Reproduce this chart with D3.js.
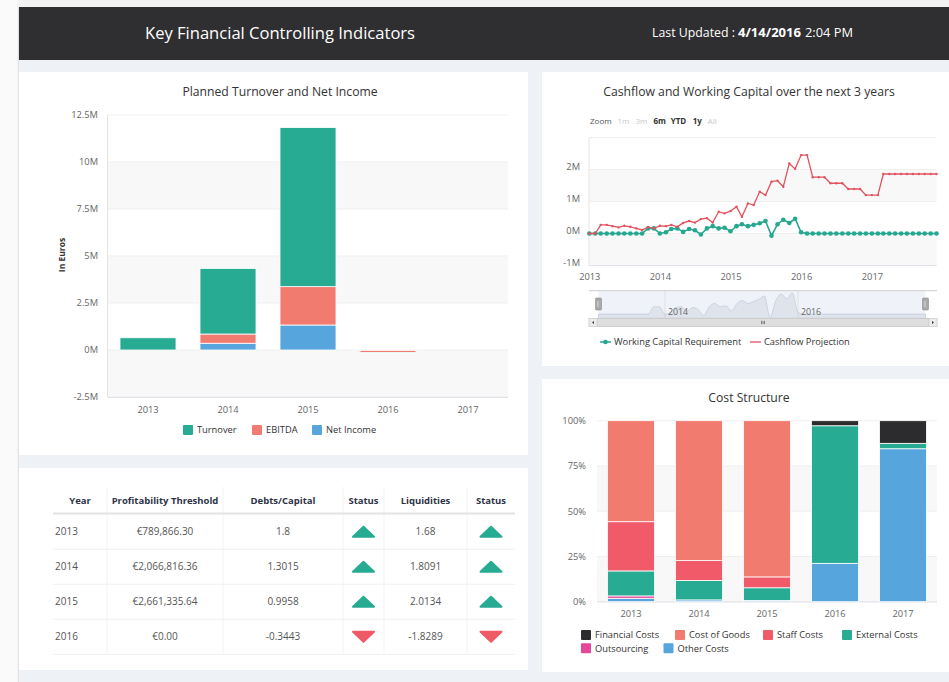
<!DOCTYPE html>
<html>
<head>
<meta charset="utf-8">
<script src="https://cdn.jsdelivr.net/npm/d3@7"></script>
<style>
  html, body { margin: 0; padding: 0; background: #f5f5f5; }
  svg { display: block; font-family: "Open Sans", sans-serif; }
</style>
</head>
<body>
<svg id="dash" width="949" height="682"></svg>
<script>
/* Key Financial Controlling Indicators - four panel dashboard.
   Bars: planned turnover (stacked), line: cashflow vs working capital,
   table: ratios, bars: cost structure (percent stacked). */

// ---- data ----
const YEARS      = ["2013", "2014", "2015", "2016", "2017"];
const TURNOVER   = [650000, 3490000, 8460000, -20000, 0];
const EBITDA     = [0, 490000, 2040000, -120000, 0];
const NET_INCOME = [0, 360000, 1330000, -20000, 0];
const TURN_TICKS = [-2.5e6, 0, 2.5e6, 5e6, 7.5e6, 10e6, 12.5e6];

// monthly, Jan 2013 .. Dec 2017, in millions of euros
const CF_START = new Date(2013, 0, 1);
const WCR = [0, 0, 0, 0, 0, 0, 0, 0, 0, 0, 0.16, 0.16,
             0, 0.04, 0.14, 0.16, 0.05, 0.14, 0.10, -0.03, 0.16, 0.23, 0.16, 0.18,
             0.07, 0.23, 0.29, 0.23, 0.27, 0.32, 0.39, -0.07, 0.29, 0.43, 0.33, 0.46,
             0.04, 0, 0, 0, 0, 0, 0, 0, 0, 0, 0, 0,
             0, 0, 0, 0, 0, 0, 0, 0, 0, 0, 0, 0];
const CASHFLOW = [0, 0, 0.27, 0.27, 0.23, 0.19, 0.24, 0.21, 0.16, 0.11, 0.20, 0.16,
                  0.24, 0.23, 0.27, 0.21, 0.33, 0.39, 0.34, 0.45, 0.48, 0.34, 0.68, 0.63,
                  0.70, 0.84, 0.52, 0.94, 0.89, 1.31, 1.20, 1.62, 1.65, 1.46, 2.19, 2.02,
                  2.45, 2.45, 1.76, 1.76, 1.76, 1.57, 1.57, 1.57, 1.39, 1.39, 1.39, 1.20,
                  1.20, 1.20, 1.86, 1.86, 1.86, 1.86, 1.86, 1.86, 1.86, 1.86, 1.86, 1.86];
const CF_TICKS = [-1, 0, 1, 2, 3];
const CF_ZOOM  = ["1m", "3m", "6m", "YTD", "1y", "All"];
const CF_ZOOM_ON = ["6m", "YTD", "1y"];

// table
const T_YEARS     = ["2013", "2014", "2015", "2016"];
const T_THRESHOLD = [789866.30, 2066816.36, 2661335.64, 0];
const T_DEBTS     = ["1.8", "1.3015", "0.9958", "-0.3443"];
const T_LIQ       = ["1.68", "1.8091", "2.0134", "-1.8289"];
const T_HEAD      = ["Year", "Profitability Threshold", "Debts/Capital", "Status", "Liquidities", "Status"];

// cost structure, percent of total
const COST_FIN   = [0, 0, 0, 2.8, 12.5];
const COST_GOODS = [55.8, 77.3, 86.3, 0, 0];
const COST_STAFF = [27.2, 11.0, 6.0, 0, 0];
const COST_EXT   = [13.8, 10.7, 7.0, 76.0, 3.0];
const COST_OUT   = [1.3, 0, 0, 0, 0];
const COST_OTHER = [1.9, 1.0, 0.7, 21.2, 84.5];
const COST_TICKS = [0, 0.25, 0.5, 0.75, 1];

// ---- styles ----
const COL = {
  teal: "#27ab93", salmon: "#f27b70", blue: "#57a5dd", staff: "#f05a69",
  dark: "#2c2c2e", pink: "#e4479b", green: "#25a88f", red: "#e2535f"
};
const LABEL = "#666", TITLE = "#333", BAND = "#f8f8f8", GRID = "#efefef", AXIS = "#dfe3ea";

const svg = d3.select("#dash");

function axisStyle(sel){
  sel.select(".domain").remove();
  sel.selectAll("text").attr("fill", LABEL).style("font-size", "9.3px")
     .style("font-family", '"Open Sans", sans-serif');
}

function legend(g, items, xs, ys){
  items.forEach((it, i) => {
    g.append("rect").attr("x", xs[i]).attr("y", ys[i] - 5)
        .attr("width", 10).attr("height", 10).attr("rx", 1).attr("fill", it[1]);
    g.append("text").attr("x", xs[i] + 14).attr("y", ys[i]).attr("dy", "0.35em")
        .attr("fill", TITLE).style("font-size", "9.3px").text(it[0]);
  });
}

function title(txt, x, y){
  svg.append("text").attr("x", x).attr("y", y).attr("dy", "0.35em")
      .attr("text-anchor", "middle").attr("fill", TITLE)
      .style("font-size", "12.2px").text(txt);
}

// ---- page frame ----
function drawFrame(){
  svg.append("rect").attr("width", 949).attr("height", 682).attr("fill", "#f3f3f3");
  svg.append("rect").attr("x", 0).attr("width", 17).attr("height", 682).attr("fill", "#fafafa");
  svg.append("rect").attr("x", 18).attr("y", 60).attr("width", 931).attr("height", 622).attr("fill", "#eef2f7");
  svg.append("line").attr("x1", 18.5).attr("x2", 18.5).attr("y1", 7).attr("y2", 682)
      .attr("stroke", "#e2e2e2");
  svg.append("rect").attr("x", 19).attr("y", 7).attr("width", 930).attr("height", 53).attr("fill", "#2f2f31");

  svg.append("text").attr("x", 145).attr("y", 33).attr("dy", "0.35em").attr("fill", "#fff")
      .style("font-size", "17px").attr("textLength", 270).attr("lengthAdjust", "spacingAndGlyphs")
      .text("Key Financial Controlling Indicators");
  const upd = [["Last Updated :", 652, 83, 400], ["4/14/2016", 738, 63, 700], ["2:04 PM", 805, 48, 400]];
  upd.forEach(u => svg.append("text").attr("x", u[1]).attr("y", 33).attr("dy", "0.35em")
      .attr("fill", "#fff").style("font-size", "12.5px").style("font-weight", u[3])
      .attr("textLength", u[2]).attr("lengthAdjust", "spacingAndGlyphs").text(u[0]));

  const panels = [[19, 72, 509, 383], [19, 468, 509, 202], [542, 72, 407, 294], [542, 379, 407, 293]];
  svg.selectAll("rect.panel").data(panels).join("rect").attr("class", "panel")
      .attr("x", d => d[0]).attr("y", d => d[1]).attr("width", d => d[2]).attr("height", d => d[3])
      .attr("fill", "#fff");
}

// ---- planned turnover ----
function drawTurnover(){
  const g = svg.append("g");
  const x = d3.scaleBand().domain(YEARS).range([108, 508]).paddingInner(0.3).paddingOuter(0.15);
  const y = d3.scaleLinear().domain([-2.5e6, 12.5e6]).range([397, 115]);

  const bands = d3.pairs(TURN_TICKS).filter((d, i) => i % 2 === 0);
  g.selectAll("rect.band").data(bands).join("rect")
      .attr("x", 108).attr("width", 400)
      .attr("y", d => y(d[1])).attr("height", d => y(d[0]) - y(d[1])).attr("fill", BAND);
  g.selectAll("line.grid").data(TURN_TICKS).join("line")
      .attr("x1", 108).attr("x2", 508).attr("y1", d => y(d)).attr("y2", d => y(d)).attr("stroke", GRID);
  g.append("line").attr("x1", 107.5).attr("x2", 107.5).attr("y1", 115).attr("y2", 397).attr("stroke", "#e4e4e4");
  g.append("line").attr("x1", 108).attr("x2", 508).attr("y1", 397.5).attr("y2", 397.5).attr("stroke", AXIS);

  g.append("g").attr("transform", "translate(108,0)")
      .call(d3.axisLeft(y).tickValues(TURN_TICKS).tickSize(0).tickPadding(10).tickFormat(d => d / 1e6 + "M"))
      .call(axisStyle);
  g.append("g").attr("transform", "translate(0,397)")
      .call(d3.axisBottom(x).tickSize(0).tickPadding(9)).call(axisStyle);

  g.append("text").attr("transform", "translate(62,255) rotate(-90)").attr("text-anchor", "middle")
      .attr("dy", "0.35em").attr("fill", TITLE).style("font-size", "8.5px").style("font-weight", 700)
      .text("In Euros");

  const rows = YEARS.map((yr, i) => ({year: yr, "Net Income": NET_INCOME[i], EBITDA: EBITDA[i], Turnover: TURNOVER[i]}));
  const keys = ["Net Income", "EBITDA", "Turnover"];
  const color = d3.scaleOrdinal().domain(keys).range([COL.blue, COL.salmon, COL.teal]);
  const stacked = d3.stack().keys(keys).offset(d3.stackOffsetDiverging)(rows);

  g.selectAll("g.series").data(stacked).join("g").attr("fill", d => color(d.key))
    .selectAll("rect").data(d => d.filter(p => p[1] !== p[0])).join("rect")
      .attr("x", d => x(d.data.year)).attr("width", x.bandwidth())
      .attr("y", d => y(Math.max(d[0], d[1])))
      .attr("height", d => Math.abs(y(d[0]) - y(d[1])))
      .attr("stroke", "#fff").attr("stroke-width", 0.8);

  legend(g, [["Turnover", COL.teal], ["EBITDA", COL.salmon], ["Net Income", COL.blue]],
         [183, 252, 312], [430, 430, 430]);
  title("Planned Turnover and Net Income", 280, 92);
}

// ---- cashflow and working capital ----
function drawCashflow(){
  const g = svg.append("g");
  const months = CASHFLOW.map((_, i) => d3.timeMonth.offset(CF_START, i));
  const x = d3.scaleTime().domain(d3.extent(months)).range([589.3, 936.5]);
  const y = d3.scaleLinear().domain([-1, 3]).range([265.5, 137.5]);

  const bands = d3.pairs(CF_TICKS).filter((d, i) => i % 2 === 0);
  g.selectAll("rect.band").data(bands).join("rect")
      .attr("x", 589.3).attr("width", 347.2)
      .attr("y", d => y(d[1])).attr("height", d => y(d[0]) - y(d[1])).attr("fill", BAND);
  g.selectAll("line.grid").data(CF_TICKS).join("line")
      .attr("x1", 589.3).attr("x2", 936.5).attr("y1", d => y(d)).attr("y2", d => y(d)).attr("stroke", GRID);
  g.append("line").attr("x1", 589).attr("x2", 589).attr("y1", 137.5).attr("y2", 265.5).attr("stroke", "#e4e4e4");
  g.append("line").attr("x1", 589.3).attr("x2", 936.5).attr("y1", 265.5).attr("y2", 265.5).attr("stroke", AXIS);

  g.append("g").attr("transform", "translate(589,-3)")
      .call(d3.axisLeft(y).tickValues(CF_TICKS.slice(0, -1)).tickSize(0).tickPadding(9).tickFormat(d => d + "M"))
      .call(axisStyle);
  const yearTicks = d3.timeYear.range(new Date(2013, 0, 1), new Date(2018, 0, 1));
  g.append("g").attr("transform", "translate(0,265.5)")
      .call(d3.axisBottom(x).tickValues(yearTicks).tickSize(0).tickPadding(8).tickFormat(d3.timeFormat("%Y")))
      .call(axisStyle);

  // range selector
  g.append("text").attr("x", 590).attr("y", 121.5).attr("dy", "0.35em").attr("fill", "#555")
      .style("font-size", "8px").text("Zoom");
  const zx = [617.5, 635.5, 653.5, 670.7, 692.7, 707.7];
  CF_ZOOM.forEach((z, i) => {
    const on = CF_ZOOM_ON.includes(z);
    g.append("text").attr("x", zx[i]).attr("y", 121.5).attr("dy", "0.35em")
        .attr("fill", on ? "#333" : "#c8c8c8").style("font-size", "8px")
        .style("font-weight", on ? 700 : 400).text(z);
  });

  const wcr = WCR.map((v, i) => ({date: months[i], v}));
  const cf  = CASHFLOW.map((v, i) => ({date: months[i], v}));
  const line = d3.line().x(d => x(d.date)).y(d => y(d.v));

  g.append("path").datum(wcr).attr("d", line).attr("fill", "none")
      .attr("stroke", COL.green).attr("stroke-width", 1.6);
  g.selectAll("circle.wcr").data(wcr).join("circle").attr("class", "wcr")
      .attr("cx", d => x(d.date)).attr("cy", d => y(d.v)).attr("r", 2.3).attr("fill", COL.green);
  g.append("path").datum(cf).attr("d", line).attr("fill", "none")
      .attr("stroke", COL.red).attr("stroke-width", 1.3);
  g.selectAll("circle.cf").data(cf).join("circle").attr("class", "cf")
      .attr("cx", d => x(d.date)).attr("cy", d => y(d.v)).attr("r", 1.2).attr("fill", COL.red);

  // navigator
  const nTop = 290.7, nBot = 318.3;
  const nx = d3.scaleTime().domain(x.domain()).range([598.5, 925.5]);
  const ny = d3.scaleLinear().domain(d3.extent(WCR)).range([nBot - 1, nTop + 2]);
  g.append("rect").attr("x", 589).attr("y", nTop).attr("width", 348).attr("height", nBot - nTop).attr("fill", "#fff");
  g.append("rect").attr("x", 598.5).attr("y", nTop).attr("width", 327).attr("height", nBot - nTop)
      .attr("fill", "rgba(102,133,194,0.10)");
  const navTicks = [new Date(2014, 0, 1), new Date(2016, 0, 1)];
  g.selectAll("line.navgrid").data(navTicks).join("line")
      .attr("x1", d => nx(d)).attr("x2", d => nx(d)).attr("y1", nTop).attr("y2", nBot).attr("stroke", "#e0e0e0");
  g.append("path").datum(wcr)
      .attr("d", d3.area().x(d => nx(d.date)).y0(nBot).y1(d => ny(d.v)).curve(d3.curveMonotoneX))
      .attr("fill", "rgba(170,180,198,0.25)").attr("stroke", "rgba(160,170,190,0.35)");
  g.selectAll("text.navlab").data(navTicks).join("text")
      .attr("x", d => nx(d) + 3).attr("y", 312).attr("dy", "0.35em").attr("fill", "#666")
      .style("font-size", "8.8px").text(d3.timeFormat("%Y"));
  g.append("line").attr("x1", 589).attr("x2", 937).attr("y1", nTop).attr("y2", nTop).attr("stroke", "#ccc");
  [598.5, 925.5].forEach(hx => {
    g.append("rect").attr("x", hx - 3).attr("y", 298).attr("width", 6).attr("height", 12).attr("rx", 1)
        .attr("fill", "#a9a9a9").attr("stroke", "#8c8c8c").attr("stroke-width", 0.6);
    g.append("line").attr("x1", hx - 0.5).attr("x2", hx - 0.5).attr("y1", 301).attr("y2", 307).attr("stroke", "#ddd");
  });

  // scrollbar
  g.append("rect").attr("x", 589).attr("y", nBot).attr("width", 348).attr("height", 8.4)
      .attr("fill", "#f2f2f2").attr("stroke", "#ccc").attr("stroke-width", 0.6);
  g.append("rect").attr("x", 597).attr("y", nBot).attr("width", 332).attr("height", 8.4)
      .attr("fill", "#dedede").attr("stroke", "#c4c4c4").attr("stroke-width", 0.6);
  [[589, 1], [929, -1]].forEach(b => {
    g.append("rect").attr("x", b[0]).attr("y", nBot).attr("width", 8).attr("height", 8.4)
        .attr("fill", "#ebebeb").attr("stroke", "#ccc").attr("stroke-width", 0.6);
    const cx = b[0] + 4, cy = nBot + 4.2;
    g.append("path").attr("d", `M${cx + 1 * b[1]},${cy - 1.5} L${cx - 1 * b[1]},${cy} L${cx + 1 * b[1]},${cy + 1.5} Z`)
        .attr("fill", "#333");
  });
  [-1.5, 0, 1.5].forEach(o => g.append("line").attr("x1", 763 + o).attr("x2", 763 + o)
      .attr("y1", nBot + 2.6).attr("y2", nBot + 5.8).attr("stroke", "#444").attr("stroke-width", 0.6));

  // legend
  g.append("line").attr("x1", 600).attr("x2", 611).attr("y1", 342).attr("y2", 342)
      .attr("stroke", COL.green).attr("stroke-width", 1.5);
  g.append("circle").attr("cx", 605.5).attr("cy", 342).attr("r", 2.3).attr("fill", COL.green);
  g.append("text").attr("x", 614).attr("y", 342).attr("dy", "0.35em").attr("fill", TITLE)
      .style("font-size", "9.3px").text("Working Capital Requirement");
  g.append("line").attr("x1", 750).attr("x2", 761).attr("y1", 342).attr("y2", 342)
      .attr("stroke", COL.red).attr("stroke-width", 1.3);
  g.append("text").attr("x", 764).attr("y", 342).attr("dy", "0.35em").attr("fill", TITLE)
      .style("font-size", "9.3px").text("Cashflow Projection");

  title("Cashflow and Working Capital over the next 3 years", 749, 92);
}

// ---- ratio table ----
function drawTable(){
  const g = svg.append("g");
  const colEdges = [53, 107, 223, 343, 384, 467, 515];
  const mid = i => (colEdges[i] + colEdges[i + 1]) / 2;
  const rowY = T_YEARS.map((_, i) => 531.7 + i * 35);
  const euro = d => "€" + d3.format(",.2f")(d);

  colEdges.slice(1, -1).forEach(cx => g.append("line").attr("x1", cx).attr("x2", cx)
      .attr("y1", 487).attr("y2", 654).attr("stroke", "#f3f3f3"));
  g.append("line").attr("x1", 53).attr("x2", 515).attr("y1", 513.5).attr("y2", 513.5)
      .attr("stroke", "#e3e3e3").attr("stroke-width", 2);
  rowY.forEach(ry => g.append("line").attr("x1", 53).attr("x2", 515).attr("y1", ry + 17.6).attr("y2", ry + 17.6)
      .attr("stroke", "#f1f1f1"));

  T_HEAD.forEach((h, i) => g.append("text").attr("x", mid(i)).attr("y", 500.7).attr("dy", "0.35em")
      .attr("text-anchor", "middle").attr("fill", "#2c3446").style("font-size", "9.5px")
      .style("font-weight", 700).text(h));

  const cell = (txt, x, y, anchor) => g.append("text").attr("x", x).attr("y", y).attr("dy", "0.35em")
      .attr("text-anchor", anchor).attr("fill", "#555").style("font-size", "10px").text(txt);
  const tri = (cx, cy, up) => {
    const s = up ? 1 : -1;
    g.append("path")
        .attr("d", `M${cx - 10.5},${cy + 5 * s} L${cx + 10.5},${cy + 5 * s} L${cx},${cy - 5 * s} Z`)
        .attr("fill", up ? COL.teal : "#ef5a66").attr("stroke", up ? COL.teal : "#ef5a66")
        .attr("stroke-width", 2).attr("stroke-linejoin", "round");
  };

  T_YEARS.forEach((yr, i) => {
    const ry = rowY[i];
    cell(yr, 55, ry, "start");
    cell(euro(T_THRESHOLD[i]), mid(1), ry, "middle");
    cell(T_DEBTS[i], mid(2), ry, "middle");
    tri(mid(3), ry, +T_DEBTS[i] > 0);
    cell(T_LIQ[i], mid(4), ry, "middle");
    tri(mid(5), ry, +T_LIQ[i] > 0);
  });
}

// ---- cost structure ----
function drawCosts(){
  const g = svg.append("g");
  const x = d3.scaleBand().domain(YEARS).range([597, 937]).paddingInner(0.31).paddingOuter(0.155);
  const y = d3.scaleLinear().domain([0, 1]).range([601.7, 420.7]);

  const bands = d3.pairs(COST_TICKS).filter((d, i) => i % 2 === 0);
  g.selectAll("rect.band").data(bands).join("rect")
      .attr("x", 597).attr("width", 340)
      .attr("y", d => y(d[1])).attr("height", d => y(d[0]) - y(d[1])).attr("fill", BAND);
  g.selectAll("line.grid").data(COST_TICKS).join("line")
      .attr("x1", 597).attr("x2", 937).attr("y1", d => y(d)).attr("y2", d => y(d)).attr("stroke", GRID);
  g.append("line").attr("x1", 597).attr("x2", 937).attr("y1", 602).attr("y2", 602).attr("stroke", AXIS);

  g.append("g").attr("transform", "translate(597,0)")
      .call(d3.axisLeft(y).tickValues(COST_TICKS).tickSize(0).tickPadding(11).tickFormat(d3.format(".0%")))
      .call(axisStyle);
  g.append("g").attr("transform", "translate(0,602)")
      .call(d3.axisBottom(x).tickSize(0).tickPadding(8).tickFormat(d => d)).call(axisStyle);

  const keys = ["Other Costs", "Outsourcing", "External Costs", "Staff Costs", "Cost of Goods", "Financial Costs"];
  const series = [COST_OTHER, COST_OUT, COST_EXT, COST_STAFF, COST_GOODS, COST_FIN];
  const color = d3.scaleOrdinal().domain(keys)
      .range([COL.blue, COL.pink, COL.teal, COL.staff, COL.salmon, COL.dark]);
  const rows = YEARS.map((yr, i) => {
    const r = {year: yr};
    keys.forEach((k, j) => r[k] = series[j][i]);
    return r;
  });
  const stacked = d3.stack().keys(keys).offset(d3.stackOffsetExpand)(rows);

  g.selectAll("g.series").data(stacked).join("g").attr("fill", d => color(d.key))
    .selectAll("rect").data(d => d.filter(p => p[1] > p[0])).join("rect")
      .attr("x", d => x(d.data.year)).attr("width", x.bandwidth())
      .attr("y", d => y(d[1])).attr("height", d => y(d[0]) - y(d[1]))
      .attr("stroke", "#fff").attr("stroke-width", 0.8);

  legend(g, [["Financial Costs", COL.dark], ["Cost of Goods", COL.salmon], ["Staff Costs", COL.staff],
             ["External Costs", COL.teal], ["Outsourcing", COL.pink], ["Other Costs", COL.blue]],
         [581, 675, 763, 842, 581, 663.5], [635, 635, 635, 635, 648.3, 648.3]);
  title("Cost Structure", 749, 398);
}

drawFrame();
drawTurnover();
drawCashflow();
drawTable();
drawCosts();
</script>
</body>
</html>
